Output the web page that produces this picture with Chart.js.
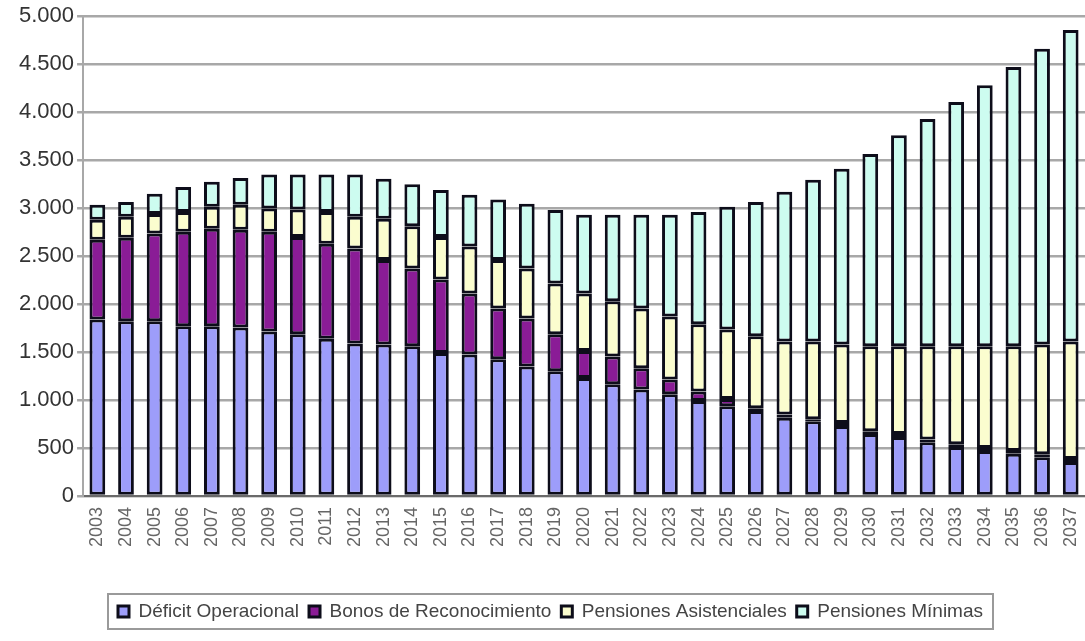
<!DOCTYPE html>
<html>
<head>
<meta charset="utf-8">
<script src="https://cdn.jsdelivr.net/npm/chart.js@4"></script>
<style>
  html, body { margin: 0; padding: 0; background: #fff; }
  #wrap { width: 1085px; height: 641px; }
</style>
</head>
<body>
<div id="wrap"><canvas id="chart" width="1085" height="641"></canvas></div>
<script>
// años 2003–2037
const years = [];
for (let y = 2003; y <= 2037; y++) years.push(String(y));

// valores (millones)
const deficitOperacional = [1840, 1820, 1820, 1770, 1770, 1755, 1715, 1685, 1640, 1590,
  1580, 1560, 1490, 1475, 1425, 1350, 1300, 1230, 1165, 1110,
  1060, 990, 935, 885, 815, 780, 730, 645, 615, 560,
  510, 470, 440, 405, 355];
const bonosReconocimiento = [830, 870, 915, 985, 1015, 1020, 1040, 1015, 990, 990,
  880, 810, 765, 635, 530, 500, 385, 280, 290, 220,
  155, 100, 75, 30, 35, 20, 30, 30, 30, 30,
  30, 30, 30, 30, 30];
const pensionesAsistenciales = [210, 220, 205, 205, 230, 260, 240, 285, 330, 330,
  430, 440, 445, 490, 505, 520, 530, 600, 575, 625,
  655, 700, 725, 750, 760, 810, 820, 885, 915, 970,
  1020, 1060, 1090, 1145, 1225];
const pensionesMinimas = [155, 155, 210, 260, 260, 280, 355, 365, 390, 440,
  415, 440, 490, 540, 630, 675, 765, 820, 900, 975,
  1060, 1170, 1280, 1400, 1560, 1685, 1830, 2005, 2200, 2370,
  2545, 2720, 2910, 3080, 3245];

const yMax = 5000;
const yStep = 500;

const fmt = v => String(v).replace(/\B(?=(\d{3})+(?!\d))/g, '.');

// recuadro alrededor de la leyenda, como en Excel
const legendBox = {
  id: 'legendBox',
  afterDraw(chart) {
    const boxes = chart.legend && chart.legend.legendHitBoxes;
    if (!boxes || !boxes.length) return;
    let l = Infinity, r = -Infinity, t = Infinity, b = -Infinity;
    boxes.forEach(h => {
      l = Math.min(l, h.left); r = Math.max(r, h.left + h.width);
      t = Math.min(t, h.top); b = Math.max(b, h.top + h.height);
    });
    const c = chart.ctx;
    c.save();
    c.strokeStyle = '#9a9a9a';
    c.lineWidth = 2;
    c.strokeRect(l - 10, t - 8, r - l + 20, b - t + 16);
    c.restore();
  }
};

const mk = (label, data, bg) => ({
  label, data,
  backgroundColor: bg,
  borderColor: '#0d0d1a',
  borderWidth: 3,
  borderSkipped: false,
  barPercentage: 0.55,
  categoryPercentage: 1.0,
});

new Chart(document.getElementById('chart'), {
  type: 'bar',
  data: {
    labels: years,
    datasets: [
      mk('Déficit Operacional', deficitOperacional, '#9d9dfa'),
      mk('Bonos de Reconocimiento', bonosReconocimiento, '#8a1c96'),
      mk('Pensiones Asistenciales', pensionesAsistenciales, '#fbfdcf'),
      mk('Pensiones Mínimas', pensionesMinimas, '#cdfcf0'),
    ]
  },
  options: {
    responsive: false,
    animation: false,
    layout: { padding: { left: 16, right: 0, top: 2, bottom: 10 } },
    scales: {
      x: {
        stacked: true,
        grid: { display: false },
        border: { color: '#6a6a6a', width: 2 },
        ticks: {
          autoSkip: false, minRotation: 90, maxRotation: 90,
          color: '#666', font: { family: 'Liberation Sans', size: 18 }
        },
        afterFit: s => { s.height = 96; s.paddingLeft = 0; s.paddingRight = 0; }
      },
      y: {
        stacked: true,
        min: 0, max: yMax,
        grid: { color: '#a8a8a8', lineWidth: 2.5, tickLength: 6 },
        border: { color: '#a8a8a8', width: 2 },
        ticks: {
          stepSize: yStep,
          color: '#333',
          padding: 3,
          font: { family: 'Liberation Sans', size: 22 },
          callback: v => fmt(v)
        }
      }
    },
    plugins: {
      legend: {
        position: 'bottom',
        labels: {
          color: '#444',
          font: { family: 'Liberation Sans', size: 19 },
          boxWidth: 11, boxHeight: 11,
          padding: 10,
        }
      },
      tooltip: { enabled: false }
    }
  },
  plugins: [legendBox]
});
</script>
</body>
</html>
